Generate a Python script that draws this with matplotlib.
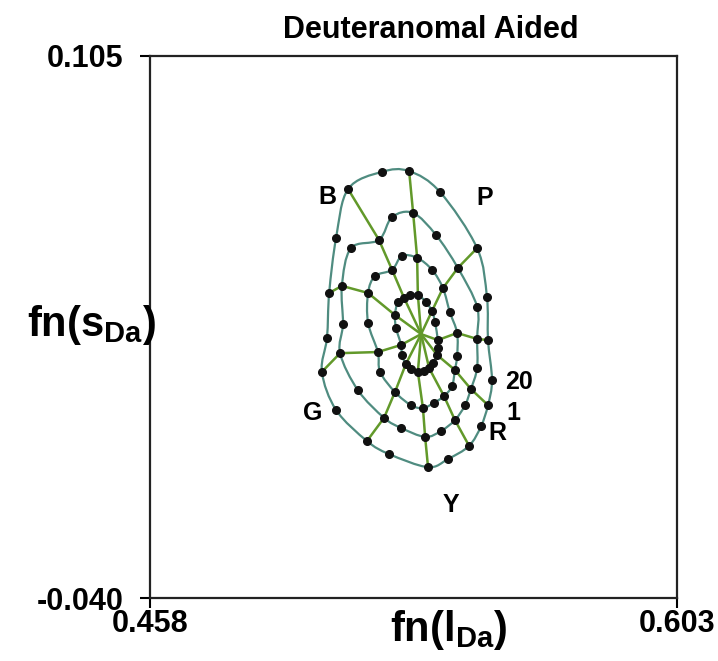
import matplotlib
matplotlib.use("Agg")
import matplotlib.pyplot as plt
from matplotlib.path import Path
from matplotlib.patches import PathPatch

plt.rcParams["font.family"] = ["Liberation Sans", "DejaVu Sans"]
plt.rcParams["mathtext.fontset"] = "custom"
plt.rcParams["mathtext.bf"] = "Liberation Sans:bold"
plt.rcParams["mathtext.rm"] = "Liberation Sans:bold"

# hue numbers 1..20, four chroma rings (1 = innermost)
hues = list(range(1, 21))

ring1_x = [0.5370, 0.5359, 0.5348, 0.5334, 0.5317, 0.5298, 0.5284, 0.5273, 0.5271, 0.5257,
           0.5254, 0.5262, 0.5279, 0.5295, 0.5317, 0.5339, 0.5356, 0.5364, 0.5372, 0.5372]
ring1_y = [0.0250, 0.0229, 0.0215, 0.0207, 0.0205, 0.0213, 0.0226, 0.0250, 0.0277, 0.0322,
           0.0357, 0.0392, 0.0403, 0.0411, 0.0411, 0.0392, 0.0368, 0.0339, 0.0290, 0.0269]

ring2_x = [0.5419, 0.5411, 0.5389, 0.5361, 0.5331, 0.5298, 0.5254, 0.5213, 0.5207, 0.5180,
           0.5180, 0.5199, 0.5246, 0.5273, 0.5315, 0.5356, 0.5386, 0.5405, 0.5425, 0.5425]
ring2_y = [0.0210, 0.0167, 0.0140, 0.0122, 0.0108, 0.0116, 0.0151, 0.0205, 0.0258, 0.0336,
           0.0416, 0.0461, 0.0478, 0.0515, 0.0510, 0.0478, 0.0429, 0.0365, 0.0309, 0.0247]

ring3_x = [0.5463, 0.5447, 0.5419, 0.5381, 0.5337, 0.5271, 0.5224, 0.5152, 0.5103, 0.5111,
           0.5108, 0.5133, 0.5210, 0.5246, 0.5304, 0.5367, 0.5427, 0.5480, 0.5480, 0.5480]
ring3_y = [0.0159, 0.0116, 0.0076, 0.0047, 0.0031, 0.0055, 0.0082, 0.0156, 0.0255, 0.0333,
           0.0435, 0.0536, 0.0558, 0.0619, 0.0630, 0.0571, 0.0483, 0.0379, 0.0293, 0.0215]

ring4_x = [0.5510, 0.5491, 0.5458, 0.5400, 0.5345, 0.5238, 0.5177, 0.5092, 0.5053, 0.5067,
           0.5073, 0.5092, 0.5125, 0.5218, 0.5293, 0.5378, 0.5480, 0.5507, 0.5510, 0.5521]
ring4_y = [0.0116, 0.0060, 0.0007, -0.0028, -0.0050, -0.0015, 0.0020, 0.0103, 0.0205, 0.0296,
           0.0416, 0.0563, 0.0694, 0.0740, 0.0742, 0.0686, 0.0536, 0.0405, 0.0290, 0.0183]

# neutral point where the spokes meet
center_x = 0.5326
center_y = 0.0306

# hues that get a spoke
spoke_hues = [1, 3, 5, 7, 9, 11, 13, 15, 17, 19]

rings_x = [ring1_x, ring2_x, ring3_x, ring4_x]
rings_y = [ring1_y, ring2_y, ring3_y, ring4_y]


def smooth_ring(xs, ys):
    # closed curve through the points (like a smoothed line in Excel)
    n = len(xs)
    verts = [(xs[0], ys[0])]
    codes = [Path.MOVETO]
    for i in range(n):
        p0 = (xs[i - 1], ys[i - 1])
        p1 = (xs[i], ys[i])
        p2 = (xs[(i + 1) % n], ys[(i + 1) % n])
        p3 = (xs[(i + 2) % n], ys[(i + 2) % n])
        c1 = (p1[0] + (p2[0] - p0[0]) / 6, p1[1] + (p2[1] - p0[1]) / 6)
        c2 = (p2[0] - (p3[0] - p1[0]) / 6, p2[1] - (p3[1] - p1[1]) / 6)
        verts += [c1, c2, p2]
        codes += [Path.CURVE4] * 3
    return Path(verts, codes)


fig = plt.figure(figsize=(7.18, 6.61), dpi=100)
ax = fig.add_axes([0.2089, 0.0953, 0.734, 0.820])

ring_color = "#4f8c80"
spoke_color = "#62992a"

for rx, ry in zip(rings_x, rings_y):
    ax.add_patch(PathPatch(smooth_ring(rx, ry), fill=False, edgecolor=ring_color,
                           lw=1.6, zorder=2))

for h in spoke_hues:
    i = hues.index(h)
    sx = [center_x] + [rx[i] for rx in rings_x]
    sy = [center_y] + [ry[i] for ry in rings_y]
    ax.plot(sx, sy, color=spoke_color, lw=1.8, zorder=3)

for rx, ry in zip(rings_x, rings_y):
    ax.plot(rx, ry, "o", color="#111111", ms=5.5, zorder=4)

# hue labels
lab = dict(fontsize=18, fontweight="bold", ha="center", va="center")
ax.text(0.5067, 0.0673, "B", **lab)
ax.text(0.5502, 0.0670, "P", **lab)
ax.text(0.5028, 0.0095, "G", **lab)
ax.text(0.5408, -0.0151, "Y", **lab)
ax.text(0.5535, 0.0042, "R", **lab)
ax.text(0.5581, 0.0095, "1", **lab)
ax.text(0.5595, 0.0178, "20", **lab)

ax.set_xlim(0.458, 0.603)
ax.set_ylim(-0.040, 0.105)
ax.set_xticks([0.458, 0.603])
ax.set_xticklabels(["0.458", "0.603"])
ax.set_yticks([-0.040, 0.105])
ax.set_yticklabels(["-0.040", "0.105"])
ax.tick_params(direction="out", length=7, width=1.5, labelsize=22)
ax.tick_params(axis="y", pad=12)
ax.tick_params(axis="x", pad=1)
for lbl in ax.get_xticklabels() + ax.get_yticklabels():
    lbl.set_fontweight("bold")
for s in ax.spines.values():
    s.set_linewidth(1.6)
    s.set_color("#222222")

fig.text(0.600, 0.955, "Deuteranomal Aided", fontsize=22, fontweight="bold",
         ha="center", va="center")

fig.text(0.625, 0.047, r"$\mathbf{fn(l}_{\mathbf{Da}}\mathbf{)}$", fontsize=30,
         ha="center", va="center")
fig.text(0.128, 0.508, r"$\mathbf{fn(s}_{\mathbf{Da}}\mathbf{)}$", fontsize=30,
         ha="center", va="center")

fig.savefig("out.png", dpi=100)
